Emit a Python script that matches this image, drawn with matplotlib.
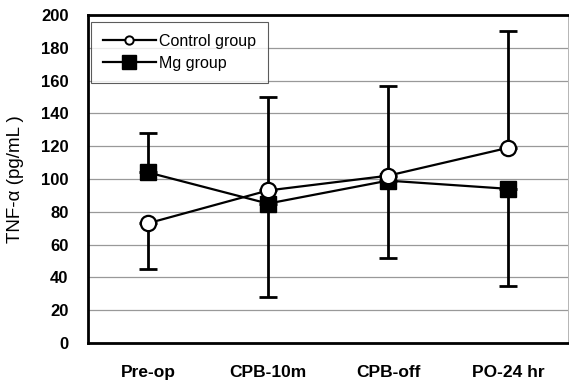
import matplotlib
matplotlib.use("Agg")
import matplotlib.pyplot as plt
from matplotlib.lines import Line2D
import numpy as np

categories = ["Pre-op", "CPB-10m", "CPB-off", "PO-24 hr"]
control = [73, 93, 102, 119]
control_err_up = [0, 57, 55, 71]
control_err_down = [28, 0, 0, 0]
mg = [104, 85, 99, 94]
mg_err_up = [24, 0, 0, 0]
mg_err_down = [0, 57, 47, 59]
yticks = [0, 20, 40, 60, 80, 100, 120, 140, 160, 180, 200]

plt.rcParams['font.family'] = ['Liberation Sans', 'DejaVu Sans']

fig = plt.figure(figsize=(5.69, 3.85), dpi=100)
ax = fig.add_axes([0.1547, 0.1091, 0.8436, 0.852])
x = np.arange(len(categories))

ax.errorbar(x, control, yerr=[control_err_down, control_err_up], fmt='none',
            ecolor='black', elinewidth=2, capsize=6.5, capthick=2, zorder=3)
ax.errorbar(x, mg, yerr=[mg_err_down, mg_err_up], fmt='none',
            ecolor='black', elinewidth=2, capsize=6.5, capthick=2, zorder=3)
ax.plot(x, control, '-o', color='black', lw=1.6, markersize=11,
        markerfacecolor='white', markeredgecolor='black', markeredgewidth=1.6,
        zorder=5)
ax.plot(x, mg, '-s', color='black', lw=1.6, markersize=12,
        markerfacecolor='black', zorder=4)

ax.set_xlim(-0.5, 3.5)
ax.set_ylim(0, 200)
ax.set_yticks(yticks)
ax.set_yticklabels([str(v) for v in yticks], fontsize=12, fontweight='bold')
ax.set_xticks(x)
ax.set_xticklabels(categories, fontsize=12.5, fontweight='bold')
ax.tick_params(axis='x', length=0, pad=16)
ax.tick_params(axis='y', length=0, pad=14)
ax.yaxis.grid(True, color='#999999', lw=0.9)
ax.set_axisbelow(True)
for s in ['left', 'bottom', 'top']:
    ax.spines[s].set_linewidth(2)
ax.spines['right'].set_linewidth(0.6)
ax.spines['right'].set_color('#aaaaaa')
ax.set_ylabel('TNF-α (pg/mL )', fontsize=13.5, labelpad=12)

handles = [
    Line2D([], [], color='black', lw=1.6, marker='o', markersize=6,
           markerfacecolor='white', markeredgewidth=1.4),
    Line2D([], [], color='black', lw=1.6, marker='s', markersize=10,
           markerfacecolor='black'),
]
leg = ax.legend(handles, ['Control group', 'Mg group'], loc='upper left',
                bbox_to_anchor=(0.006, 0.979), fontsize=11.5,
                frameon=True, fancybox=False, edgecolor='#333333',
                handlelength=3.3, handletextpad=0.2, borderpad=0.75,
                labelspacing=0.45, borderaxespad=0)
leg.get_frame().set_linewidth(0.8)

fig.savefig('out.png', dpi=100)
